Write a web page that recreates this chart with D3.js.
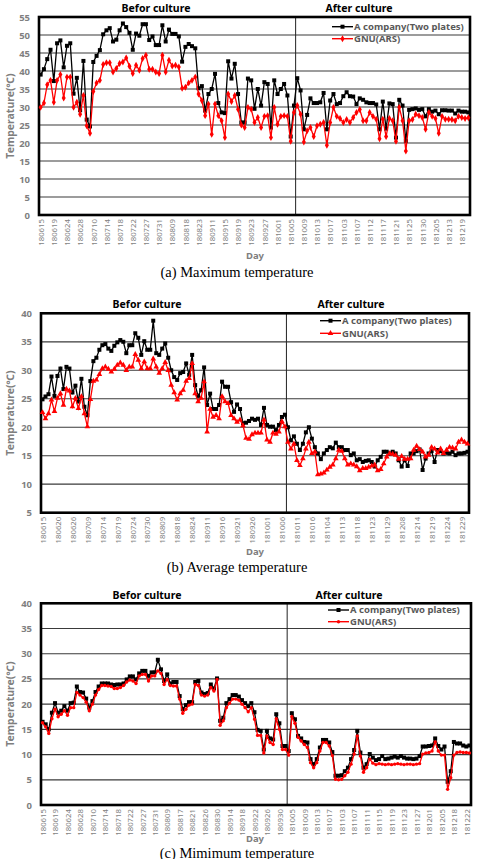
<!DOCTYPE html>
<html><head><meta charset="utf-8">
<script src="https://cdn.jsdelivr.net/npm/d3@7"></script>
<style>body{margin:0;background:#fff} svg{display:block}</style>
</head><body><svg id="c" width="478" height="859"></svg>
<script>
// ---------- (a) Maximum temperature ----------
const labelsA = ["180615","180619","180624","180628","180710","180714","180718","180722","180727","180731","180809","180818","180823","180911","180915","180919","180923","180927","181001","181005","181009","181013","181017","181103","181107","181112","181117","181121","181125","181130","181205","181213","181219"];
const companyA = [39,40.5,43.3,45.9,37.2,47.7,48.5,41,47,47.7,
33.7,38.1,29.1,42.8,26.5,24.6,42.5,44.2,45.8,50.2,
51.3,51.9,48.2,48.7,51.3,53.2,52.2,50.6,45.9,50.4,
49.8,53,53,48.6,49.6,47.2,47.2,52.7,48.2,51.5,
50.3,50.3,49.6,42.6,46.7,47.5,46.9,46.3,35.2,35.8,
29,33.6,35,39.2,31.1,28.5,28.3,42.7,37.9,42,
33.6,25.7,25.7,37.9,37.4,29.5,35,30.4,36.9,36.4,
24.3,37.4,33.6,35,36.4,33.2,21.8,30.4,38,34.6,
23.8,27.8,32.4,31.1,31.1,31.3,33.9,23.8,31.8,33.6,
30.8,31.1,33,34.1,33,32.9,30.8,32.4,32,31.3,
31.1,31.1,30.7,23.8,31.5,24,31,30.8,21.5,32,
30.4,20.6,29.2,29.4,29.6,29.2,29.4,27.4,29.4,28.7,
29,28,29.1,29.1,29,29,28.2,29,28.7,28.7,
28.5];
const gnuA = [29.9,31.1,36.2,37.4,31.3,37.4,39,32.5,38.3,38.3,
29.9,31.3,28,33.2,24.8,22.7,34.3,36.7,37.4,41.8,
42.3,42.3,39.7,40.7,42.1,42.5,43.6,41.3,39.3,41.6,
40.2,43.5,44.4,40.5,40.5,39.7,39.3,44.4,39.7,43,
41.4,41.6,41.1,35.2,35.5,36.7,37.4,38.3,33.6,31.8,
27.6,30.8,22.4,30.8,27.6,26.2,21.5,33.6,31.5,33.2,
29.4,25,24.3,29.9,29.4,25.7,27.1,24.3,27.4,27.6,
21.5,29.9,25.2,27.4,27.6,27.4,20.5,28.5,30.4,28,
20.3,23.4,24.3,21.8,24.8,25.2,25.7,19.4,25.7,29.9,
27.4,26.8,25.7,26.5,25.7,27.1,28.5,29.3,26.2,26.2,
28.5,27.4,26.6,21.2,26.6,21.8,26.8,26.2,20.5,29.9,
26.2,17.8,26.2,26.5,28,27.6,27.1,23.8,28.5,27.4,
26.8,22.7,27.4,26.6,26.6,26.5,26.2,27.4,27.1,26.8,
27];
const afterA = 78;

// ---------- (b) Average temperature ----------
const labelsB = ["180615","180620","180626","180709","180714","180719","180724","180730","180809","180818","180824","180911","180916","180921","180926","181001","181006","181011","181016","181104","181113","181118","181123","181129","181208","181214","181219","181224","181229"];
const companyB = [24.9,25.4,25.8,28.9,25.5,29,30.3,26.7,30.6,30.3,
26.1,27.3,24.5,28.5,23.6,22.1,28.1,31.6,32.2,33.6,
34.4,34.6,33.8,33.4,34.3,34.9,35.3,35,33,34.4,
34.4,36.5,35.7,32.7,35.1,33.6,33.6,38.7,33,32.7,
33.8,34.7,32.2,30,28.8,28.3,29.5,29.7,31.2,29.2,
32.7,27.4,25.5,26.5,30.5,23.9,25.9,23.2,23.2,23.9,
28,27.1,27.1,24.4,22.7,24,23.2,20.7,20.8,21.1,
21.5,21.3,21.5,20.4,23.4,20.4,20.1,20.1,19.5,20.4,
21.8,22.2,20,17.7,18.4,17.1,16,17.1,19.1,20,
18,16.5,15.4,14.4,15.4,16,16.5,16.3,17.3,16.5,
16.5,16,16,15.1,15.4,14.2,14.4,13.9,14.1,14.2,
13.9,13.1,14.2,14.8,15.7,15.7,15.4,15.7,15.4,14.2,
13.1,14.2,13.2,15.4,15.4,15.8,16.1,12.5,14.5,15.4,
15.8,13.9,16,15.8,15.4,15.5,15.4,15.7,15.1,15.4,
15.4,15.5,15.7];
const gnuB = [22.6,21.5,22.4,24.8,22.8,25.1,25.9,23.9,26.7,26.4,
23.6,25.1,23.3,25.4,22.4,20.1,24.9,28.1,28.3,29.3,
30.3,30.6,30.2,29.7,30.2,30.9,31.3,30.9,30,30.6,
30.6,32.8,31.8,30.3,31.5,30.3,30.3,32,30.6,29.5,
30.3,31.4,30,27.4,26.1,24.8,25.9,26.5,28.1,28.6,
31.2,25.9,24.5,25.1,28,19.2,23.2,21.8,22.1,21.5,
25.4,24.5,24.2,22.1,21.5,20.9,21.3,20.3,18.1,17.9,
18.7,19,19,19,21.3,17.8,17.4,19,18.8,19.2,
21,20.1,17.4,16.2,17.1,14.2,13.3,14.5,16.2,17.4,
15.4,15.7,11.7,11.8,12,12.5,13,13.4,14.5,16,
15.8,14.5,13.4,13.6,13.4,13.1,12.4,12.8,12.8,13,
13.2,13.4,12.4,12.6,13.6,14.8,15.4,15.3,15.1,14.4,
14.9,14.4,14.4,14.5,16,16.7,16.1,15.7,14.8,15.1,
16.5,16.2,15.5,16.2,15.4,16,16.5,16.4,16.2,17.4,
17.8,17.4,17.1];
const afterB = 82;

// ---------- (c) Minimum temperature ----------
const labelsC = ["180615","180619","180624","180628","180710","180714","180718","180722","180727","180731","180809","180817","180821","180826","180830","180914","180918","180922","180926","180930","181005","181009","181013","181017","181103","181107","181111","181115","181119","181123","181127","181201","181205","181218","181222"];
const companyC = [16.5,16,15,18.3,20.2,18.3,18.7,19.6,18.7,20.2,
20.3,23.5,22.4,22.3,21.1,19.3,20.6,22.4,23.5,24.1,
24.1,24.1,23.9,23.8,23.9,23.9,24.1,24.9,25.5,25.5,
24.9,26.1,26.6,26.6,25.6,26.3,26.3,28.8,26.9,24.6,
25.9,24.1,24.4,24.4,21.6,19,19.8,20.4,20.4,24.4,
24.6,22.3,22,22.2,23.9,23.1,25.1,16.7,17.3,20.2,
21,21.8,21.8,21.5,20.8,20.2,19.6,20.2,18.4,
14.9,14.7,11,14.7,13.2,13,18,16.2,11.7,11.7,
10.7,18.2,17,13.7,13.2,12.5,12.4,9.1,8.1,9.1,
11.4,12.9,12.9,12.4,10.5,5.8,5.8,5.9,6.7,7.4,
9.1,10.9,14.7,10.4,7.4,8.1,10.1,9.4,8.9,9.1,
9.7,9.1,9.2,9.4,9.6,9.4,9.7,9.4,9.2,9.2,
9.1,9.2,9.7,11.6,11.6,11.7,11.8,13.2,11.7,11,
11.6,4.6,6.7,12.5,12.2,12.2,11.8,11.6,11.8];
const gnuC = [16.3,15.5,14.2,17.1,19,17.5,18,18.7,17.8,19.3,
19.3,22.3,21.8,21.3,20.4,18.7,20,21.8,22.9,23.7,
23.7,23.6,23.5,23.1,23.1,23.3,23.7,24.4,24.8,24.6,
24.1,25.6,25.9,25.9,24.6,25.6,25.6,26.6,26.1,23.9,
24.9,23.7,23.6,23.6,21,18.2,19,19.8,20,23.9,
23.7,21.8,21.6,21.8,23.3,22.6,24.9,15.8,16.7,19.3,
20.2,21,21,20.8,20,19.3,18.5,19.3,17,
13.8,13.8,10.3,13.7,12.4,12,17.1,15,11,11,
9.9,17.5,16.2,13.4,12.7,12,11.4,8.4,7.4,8.4,
10.7,12.4,12.4,11.7,9.8,5.1,5,5.1,5.8,6.5,
8.1,10.1,13.7,9.7,6.5,7.4,9.1,8.3,8,8.2,
8.1,8,8.1,8,8.1,8.2,8.1,8,8.1,8.1,
8,8.1,8.2,10.1,10.3,10.4,10.7,12.5,10.7,9.9,
9.9,3.1,5.4,9.9,10.4,10.5,10.4,10.4,10.3];
const afterC = 79;

const seriesNames = ["A company(Two plates)", "GNU(ARS)"];
const periodNames = ["Befor culture", "After culture"];
const captions = ["(a) Maximum temperature", "(b) Average temperature", "(c) Mimimum temperature"];

const svg = d3.select('#c');
const SANS = "'Noto Sans', 'DejaVu Sans', sans-serif";
const GRAY = '#7f7f7f';

function panel(o){
  const g = svg.append('g');
  const n = o.company.length;
  const x = d3.scalePoint().domain(d3.range(n)).range([o.left, o.right]).padding(0.5);
  const y = d3.scaleLinear().domain(o.yDomain).range([o.bottom, o.top]);
  const step = x.step();
  const yTicks = d3.range(o.yDomain[0], o.yDomain[1] + 0.001, 5);

  // gridlines
  g.append('g').selectAll('line').data(yTicks).join('line')
    .attr('x1', o.left).attr('x2', o.right)
    .attr('y1', d => y(d)).attr('y2', d => y(d))
    .attr('stroke', '#3a3a3a').attr('stroke-width', 1.2);

  // divider (before / after culture)
  const xd = x(o.after) - step / 2;
  g.append('line').attr('x1', xd).attr('x2', xd).attr('y1', o.top).attr('y2', o.bottom)
    .attr('stroke', '#222').attr('stroke-width', 1);

  // y axis labels
  const ya = d3.axisLeft(y).tickValues(yTicks).tickSize(0).tickPadding(9);
  const yg = g.append('g').attr('transform', `translate(${o.left},0)`).call(ya);
  yg.select('.domain').remove();
  yg.selectAll('text').attr('font-family', SANS).attr('font-size', 9.5).attr('font-weight', 'bold').attr('fill', GRAY);

  // x axis labels
  const xa = d3.axisBottom(x).tickValues(o.labels.map((_, k) => k * o.labelStep))
    .tickFormat(d => o.labels[d / o.labelStep]).tickSize(0);
  const xg = g.append('g').attr('transform', `translate(0,${o.bottom})`).call(xa);
  xg.select('.domain').remove();
  xg.selectAll('text').attr('transform', 'rotate(-90)').attr('text-anchor', 'end')
    .attr('x', -4).attr('y', 0).attr('dy', '0.35em')
    .attr('font-family', SANS).attr('font-size', 7.8).attr('fill', GRAY);

  // frame
  g.append('rect').attr('x', o.left).attr('y', o.top).attr('width', o.right - o.left).attr('height', o.bottom - o.top)
    .attr('fill', 'none').attr('stroke', '#000').attr('stroke-width', 2.6);

  const line = d3.line().x((d, i) => x(i)).y(d => y(d));
  // company series
  g.append('path').datum(o.company).attr('d', line).attr('fill', 'none').attr('stroke', '#000').attr('stroke-width', 1.3);
  g.append('g').selectAll('rect').data(o.company).join('rect')
    .attr('x', (d, i) => x(i) - 2).attr('y', d => y(d) - 2).attr('width', 4).attr('height', 4).attr('fill', '#000');
  // GNU series
  g.append('path').datum(o.gnu).attr('d', line).attr('fill', 'none').attr('stroke', '#ff0000').attr('stroke-width', 1.3);
  const sym = d3.symbol().type(o.redSymbol).size(o.redSize);
  g.append('g').selectAll('path').data(o.gnu).join('path')
    .attr('transform', (d, i) => `translate(${x(i)},${y(d)})`).attr('d', sym).attr('fill', '#ff0000');

  // legend
  const L = o.legend;
  [0, 1].forEach(k => {
    const ly = L.y + k * L.dy;
    const col = k === 0 ? '#000' : '#ff0000';
    g.append('line').attr('x1', L.x).attr('x2', L.x + 21).attr('y1', ly).attr('y2', ly).attr('stroke', col).attr('stroke-width', 1.4);
    if (k === 0) g.append('rect').attr('x', L.x + 8.5).attr('y', ly - 2).attr('width', 4).attr('height', 4).attr('fill', '#000');
    else g.append('path').attr('transform', `translate(${L.x + 10.5},${ly})`).attr('d', sym).attr('fill', '#ff0000');
    g.append('text').attr('x', L.x + 22).attr('y', ly).attr('dy', '0.35em')
      .attr('font-family', SANS).attr('font-size', 9.5).attr('font-weight', 'bold').attr('fill', '#595959')
      .text(seriesNames[k]);
  });

  // period titles
  g.append('text').attr('x', o.titleX[0]).attr('y', o.titleY).attr('text-anchor', 'middle')
    .attr('font-family', SANS).attr('font-size', 10.5).attr('font-weight', 'bold').attr('fill', '#000').text(periodNames[0]);
  g.append('text').attr('x', o.titleX[1]).attr('y', o.titleY).attr('text-anchor', 'middle')
    .attr('font-family', SANS).attr('font-size', 10.5).attr('font-weight', 'bold').attr('fill', '#000').text(periodNames[1]);

  // axis titles
  g.append('text').attr('x', 255).attr('y', o.dayY).attr('text-anchor', 'middle')
    .attr('font-family', SANS).attr('font-size', 9.5).attr('font-weight', 'bold').attr('fill', GRAY).text('Day');
  g.append('text').attr('transform', `translate(10,${(o.top + o.bottom) / 2}) rotate(-90)`).attr('text-anchor', 'middle')
    .attr('dy', '0.35em')
    .attr('font-family', SANS).attr('font-size', 10.5).attr('font-weight', 'bold').attr('fill', GRAY).text('Temperature(℃)');

  // caption
  g.append('text').attr('x', 237).attr('y', o.capY).attr('text-anchor', 'middle')
    .attr('font-family', "'Liberation Serif', 'Times New Roman', serif").attr('font-size', 14.5).attr('fill', '#000')
    .text(o.caption);
}

panel({company: companyA, gnu: gnuA, labels: labelsA, labelStep: 4, after: afterA,
  left: 39, right: 470, top: 17, bottom: 215, yDomain: [0, 55],
  redSymbol: d3.symbolDiamond, redSize: 14,
  legend: {x: 332, y: 26.7, dy: 12},
  titleX: [156, 359], titleY: 11.5, dayY: 259, capY: 277, caption: captions[0]});

panel({company: companyB, gnu: gnuB, labels: labelsB, labelStep: 5, after: afterB,
  left: 41, right: 469, top: 313.3, bottom: 512.7, yDomain: [5, 40],
  redSymbol: d3.symbolTriangle, redSize: 14,
  legend: {x: 320, y: 320.7, dy: 12.6},
  titleX: [147, 351], titleY: 308, dayY: 555, capY: 572, caption: captions[1]});

panel({company: companyC, gnu: gnuC, labels: labelsC, labelStep: 4, after: afterC,
  left: 41, right: 471, top: 603.3, bottom: 805, yDomain: [0, 40],
  redSymbol: d3.symbolCircle, redSize: 9,
  legend: {x: 328, y: 610, dy: 11.7},
  titleX: [147, 349], titleY: 599, dayY: 842, capY: 857.5, caption: captions[2]});
</script>
</body></html>
